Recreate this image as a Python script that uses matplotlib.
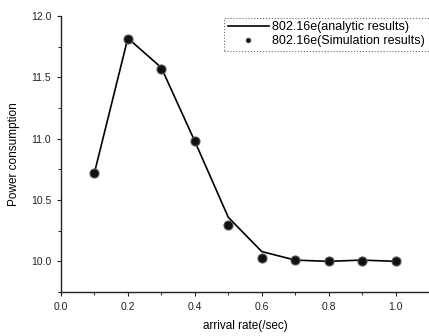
import matplotlib
matplotlib.use("Agg")
import matplotlib.pyplot as plt
from matplotlib.ticker import MultipleLocator

plt.rcParams['font.family'] = ['Liberation Sans', 'DejaVu Sans']

arrival_rate = [0.1, 0.2, 0.3, 0.4, 0.5, 0.6, 0.7, 0.8, 0.9, 1.0]
analytic = [10.72, 11.82, 11.58, 10.98, 10.36, 10.08, 10.01, 10.00, 10.01, 10.00]
simulation = [10.72, 11.81, 11.57, 10.98, 10.30, 10.03, 10.01, 10.00, 10.00, 10.00]

fig = plt.figure(figsize=(4.29, 3.36), dpi=100)
ax = fig.add_axes([0.142, 0.131, 0.858, 0.821])

ax.plot(arrival_rate, analytic, color='black', lw=1.2, label='802.16e(analytic results)', zorder=2)
ax.plot(arrival_rate, simulation, linestyle='none', marker='o', ms=6.5,
        markerfacecolor='#111111', markeredgecolor='#555555', markeredgewidth=0.8,
        label='802.16e(Simulation results)', zorder=3)

ax.set_xlim(0.0, 1.1)
ax.set_ylim(9.75, 12.0)
ax.xaxis.set_major_locator(MultipleLocator(0.2))
ax.xaxis.set_minor_locator(MultipleLocator(0.1))
ax.yaxis.set_major_locator(MultipleLocator(0.5))
ax.yaxis.set_minor_locator(MultipleLocator(0.25))
ax.set_xticks([0.0, 0.2, 0.4, 0.6, 0.8, 1.0])
ax.set_xticklabels(['0.0', '0.2', '0.4', '0.6', '0.8', '1.0'])
ax.tick_params(axis='both', which='major', direction='out', length=3, width=0.8, labelsize=7.5, colors='#222222', pad=4)
ax.tick_params(axis='both', which='minor', direction='out', length=2, width=0.6)

for s in ['top', 'right']:
    ax.spines[s].set_visible(False)
for s in ['left', 'bottom']:
    ax.spines[s].set_linewidth(1.0)
    ax.spines[s].set_color('#222222')

ax.set_xlabel('arrival rate(/sec)', fontsize=8.5, labelpad=6)
ax.set_ylabel('Power consumption', fontsize=8.5, labelpad=8)

leg = ax.legend(loc='upper right', bbox_to_anchor=(1.0, 0.995), fontsize=9,
                frameon=True, fancybox=False, borderpad=0.3, labelspacing=0.15,
                handlelength=3.3, handletextpad=0.3, borderaxespad=0.0, markerscale=0.5)
frame = leg.get_frame()
frame.set_edgecolor('#444444')
frame.set_linestyle(':')
frame.set_linewidth(0.8)

fig.savefig('out.png', dpi=100)
